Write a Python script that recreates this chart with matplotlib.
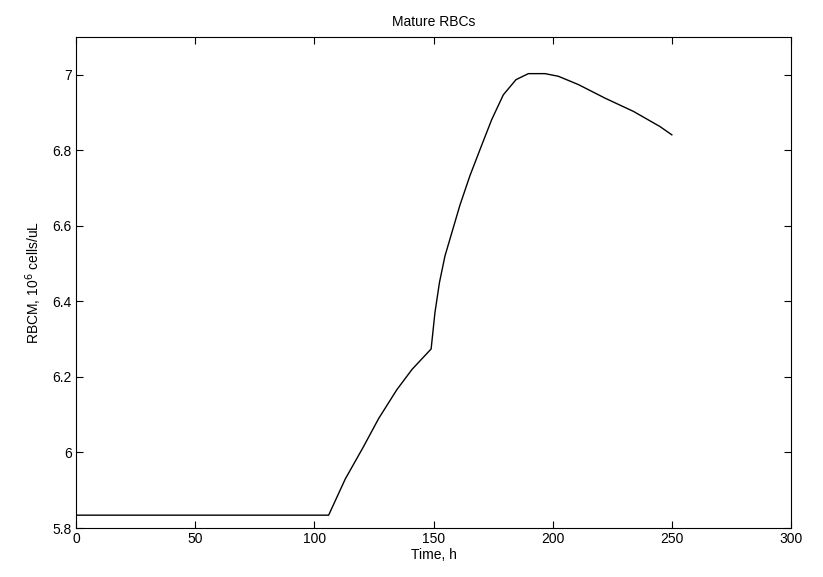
import matplotlib
matplotlib.use("Agg")
import matplotlib.pyplot as plt

# Mature RBC count
time_h = [0, 106, 113, 120.6, 127, 134.6, 141, 149, 150.6, 152.5, 154.8, 158.3,
          161.1, 165.3, 170, 174.4, 179.3, 184.6, 189.8, 196.8, 202.4, 210.8,
          222, 233.9, 245, 250]
rbcm = [5.834, 5.834, 5.93, 6.015, 6.09, 6.166, 6.22, 6.274, 6.37, 6.45,
        6.52, 6.595, 6.655, 6.733, 6.81, 6.881, 6.947, 6.987, 7.003, 7.003,
        6.996, 6.974, 6.938, 6.903, 6.863, 6.841]

xticks = [0, 50, 100, 150, 200, 250, 300]
yticks = [5.8, 6, 6.2, 6.4, 6.6, 6.8, 7]
ytick_labels = ["5.8", "6", "6.2", "6.4", "6.6", "6.8", "7"]

plt.rcParams['font.family'] = ['Liberation Sans', 'DejaVu Sans']

fig = plt.figure(figsize=(8.23, 5.77), dpi=100)
ax = fig.add_axes([76 / 823, 49 / 577, 715 / 823, 491 / 577])

ax.plot(time_h, rbcm, color='black', linewidth=1.0)

ax.set_xlim(0, 300)
ax.set_ylim(5.8, 7.1)
ax.set_xticks(xticks)
ax.set_yticks(yticks)
ax.set_yticklabels(ytick_labels)
ax.tick_params(direction='in', length=5, width=0.8, top=True, right=True,
               labelsize=10, pad=3)
for s in ax.spines.values():
    s.set_linewidth(0.8)

ax.set_xlabel("Time, h", fontsize=10, labelpad=1)
ax.set_ylabel(r"RBCM, 10$^6$ cells/uL", fontsize=10, labelpad=6)
ax.set_title("Mature RBCs", fontsize=10, pad=8)

fig.savefig("out.png", dpi=100)
